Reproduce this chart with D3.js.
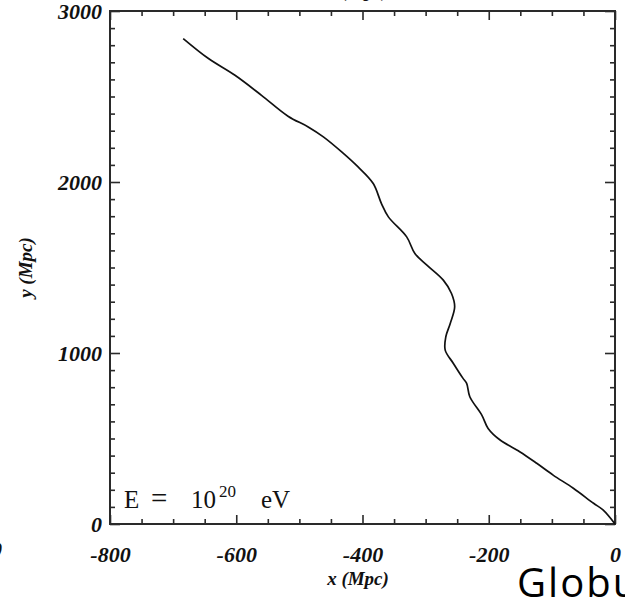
<!DOCTYPE html>
<html>
<head>
<meta charset="utf-8">
<script src="https://cdn.jsdelivr.net/npm/d3@7"></script>
<style>
  html, body { margin: 0; padding: 0; background: #fff; }
  svg { display: block; }
</style>
</head>
<body>
<svg id="chart" width="625" height="602"></svg>
<script>
// Propagation path of a 10^20 eV particle in the x–y plane (Mpc)
const trackX = [-684, -644, -602, -560, -518, -486, -462, -433, -407, -383, -370, -359,
                -330, -317, -298, -272, -259, -254, -261, -268, -269, -256, -241, -235,
                -230, -211, -201, -182, -151, -124, -98, -66, -34, -19, 0];
const trackY = [2839, 2722, 2624, 2507, 2385, 2322, 2264, 2176, 2088, 1991, 1874, 1796,
                1679, 1582, 1514, 1426, 1348, 1270, 1173, 1095, 1017, 939, 853, 822,
                744, 637, 559, 491, 423, 355, 286, 209, 121, 82, 0];

const xMajor = [-800, -600, -400, -200, 0];
const yMajor = [0, 1000, 2000, 3000];
const xMinorStep = 50;
const yMinorStep = 100;

const svg = d3.select("#chart");
const margin = { left: 110, right: 10, top: 11, bottom: 78 };
const W = 625, H = 602;

const x = d3.scaleLinear().domain([-800, 0]).range([margin.left, W - margin.right]);
const y = d3.scaleLinear().domain([0, 3000]).range([H - margin.bottom, margin.top]);

const xMinor = d3.range(-800, 0.1, xMinorStep).filter(v => !xMajor.includes(v));
const yMinor = d3.range(0, 3000.1, yMinorStep).filter(v => !yMajor.includes(v));

const axisColor = "#2a2a2a";
const tickFont = "italic bold 22px 'Liberation Serif', 'Times New Roman', serif";
const fmt = d => String(d);   // plain hyphen-minus, as in the printed figure

function styleAxis(g) {
  g.select(".domain").remove();
  g.selectAll(".tick line").attr("stroke", axisColor).attr("stroke-width", 1.6);
}

// minor and major ticks on all four sides, pointing inward
const bottomY = y(0), topY = y(3000), leftX = x(-800), rightX = x(0);

svg.append("g").attr("transform", `translate(0,${bottomY})`)
  .call(d3.axisBottom(x).tickValues(xMinor).tickSize(-5).tickFormat("")).call(styleAxis);
svg.append("g").attr("transform", `translate(0,${bottomY})`)
  .call(d3.axisBottom(x).tickValues(xMajor).tickSize(-9).tickFormat(fmt))
  .call(styleAxis)
  .call(g => g.selectAll("text")
    .style("font", tickFont).attr("fill", "#111").attr("y", 38).attr("dy", 0));

svg.append("g").attr("transform", `translate(0,${topY})`)
  .call(d3.axisTop(x).tickValues(xMinor).tickSize(-5).tickFormat("")).call(styleAxis);
svg.append("g").attr("transform", `translate(0,${topY})`)
  .call(d3.axisTop(x).tickValues(xMajor).tickSize(-9).tickFormat("")).call(styleAxis);

svg.append("g").attr("transform", `translate(${leftX},0)`)
  .call(d3.axisLeft(y).tickValues(yMinor).tickSize(-5).tickFormat("")).call(styleAxis);
svg.append("g").attr("transform", `translate(${leftX},0)`)
  .call(d3.axisLeft(y).tickValues(yMajor).tickSize(-10).tickPadding(8).tickFormat(fmt))
  .call(styleAxis)
  .call(g => g.selectAll("text").style("font", tickFont).attr("fill", "#111"));

svg.append("g").attr("transform", `translate(${rightX},0)`)
  .call(d3.axisRight(y).tickValues(yMinor).tickSize(-5).tickFormat("")).call(styleAxis);
svg.append("g").attr("transform", `translate(${rightX},0)`)
  .call(d3.axisRight(y).tickValues(yMajor).tickSize(-10).tickFormat("")).call(styleAxis);

// plot frame
svg.append("rect")
  .attr("x", leftX).attr("y", topY)
  .attr("width", rightX - leftX).attr("height", bottomY - topY)
  .attr("fill", "none").attr("stroke", axisColor).attr("stroke-width", 2);

// trajectory
const pts = trackX.map((v, i) => [v, trackY[i]]);
svg.append("path")
  .datum(pts)
  .attr("fill", "none")
  .attr("stroke", "#111")
  .attr("stroke-width", 1.7)
  .attr("stroke-linejoin", "round")
  .attr("d", d3.line().x(d => x(d[0])).y(d => y(d[1])).curve(d3.curveCatmullRom.alpha(0.5)));

// energy annotation, set in math style with wide spacing round "="
const eFont = "25px 'Liberation Serif', 'DejaVu Serif', serif";
const eLabel = svg.append("g").attr("fill", "#111").style("font", eFont);
eLabel.append("text").attr("x", 124).attr("y", 508).text("E");
eLabel.append("text").attr("x", 151).attr("y", 508).style("font-size", "29px").text("=");
eLabel.append("text").attr("x", 191).attr("y", 508).text("10");
eLabel.append("text").attr("x", 219).attr("y", 497).style("font-size", "17px").text("20");
eLabel.append("text").attr("x", 261).attr("y", 508).text("eV");

// axis titles
const labelFont = "italic bold 19px 'Liberation Serif', 'Times New Roman', serif";
svg.append("text")
  .attr("x", 358).attr("y", 585)
  .attr("text-anchor", "middle")
  .style("font", labelFont).attr("fill", "#111")
  .text("x (Mpc)");

svg.append("text")
  .attr("transform", `translate(32,${(topY + bottomY) / 2}) rotate(-90)`)
  .attr("text-anchor", "middle")
  .style("font", labelFont).attr("fill", "#111")
  .text("y (Mpc)");

// axis title of the panel above, mostly off the top edge
svg.append("text")
  .attr("x", 358).attr("y", -3)
  .attr("text-anchor", "middle")
  .style("font", labelFont).attr("fill", "#111")
  .text("x (Mpc)");

// tick label of the neighbouring panel, off the left edge
svg.append("text")
  .attr("x", 2).attr("y", 557)
  .attr("text-anchor", "end")
  .style("font", tickFont).attr("fill", "#111")
  .text("0");

// slide caption running off the right edge
svg.append("text")
  .attr("x", 517).attr("y", 597)
  .style("font", "40px 'Open Sans', 'Noto Sans', sans-serif")
  .style("letter-spacing", "2px")
  .attr("fill", "#000")
  .text("Globular");
</script>
</body>
</html>
